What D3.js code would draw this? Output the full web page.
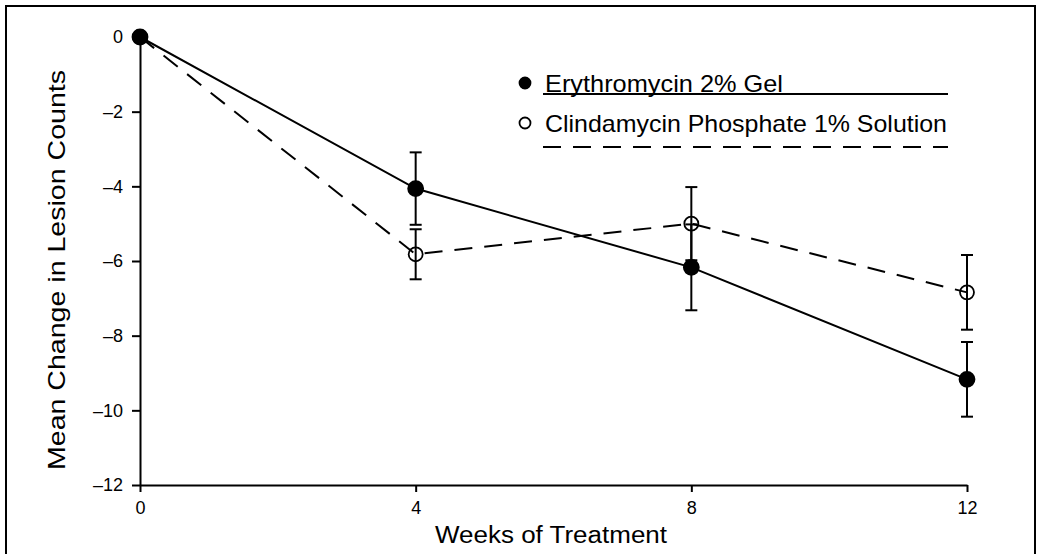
<!DOCTYPE html>
<html><head><meta charset="utf-8">
<script src="https://cdn.jsdelivr.net/npm/d3@7"></script>
<style>body{margin:0;background:#fff}svg{display:block}text{font-family:"Liberation Sans",Arial,sans-serif;fill:#000}</style>
</head><body><svg id="c" width="1039" height="554"></svg>
<script>
const weeks = [0, 4, 8, 12];
const xTicks = [0, 4, 8, 12];
const yTicks = [0, -2, -4, -6, -8, -10, -12];
const seriesNames = ["Erythromycin 2% Gel", "Clindamycin Phosphate 1% Solution"];
const erythroMean = [0, -4.06, -6.17, -9.17];
const erythroErr  = [0, 0.97, 1.15, 1.0];
const clindaMean  = [0, -5.82, -5.0, -6.84];
const clindaErr   = [0, 0.67, 0.98, 1.0];

const svg = d3.select("#c");
const x = d3.scaleLinear().domain([0, 12]).range([140, 967]);
const y = d3.scaleLinear().domain([0, -12]).range([37, 485]);

// frame
svg.append("path").attr("d","M6,554 L6,6 L1035,6 L1035,554").attr("fill","none").attr("stroke","#000").attr("stroke-width",2);

// axes
const yAxis = svg.append("g").attr("transform",`translate(${x(0)},0)`)
  .call(d3.axisLeft(y).tickValues(yTicks).tickSize(8).tickSizeOuter(0).tickPadding(9).tickFormat(d => d === 0 ? "0" : "\u2013" + Math.abs(d)));
const xAxis = svg.append("g").attr("transform",`translate(0,${y(-12)})`)
  .call(d3.axisBottom(x).tickValues(xTicks).tickSize(7).tickSizeOuter(0).tickPadding(9));
[yAxis, xAxis].forEach(g => {
  g.selectAll("path,line").attr("stroke","#000").attr("stroke-width",2);
  g.selectAll("text").attr("font-size",18).attr("font-family","Liberation Sans, Arial, sans-serif");
});

// axis titles
svg.append("text").attr("x", 551).attr("y", 543).attr("text-anchor","middle").attr("font-size",23)
  .attr("textLength", 232).attr("lengthAdjust","spacingAndGlyphs").text("Weeks of Treatment");
svg.append("text").attr("transform","translate(65,270) rotate(-90)").attr("text-anchor","middle").attr("font-size",24)
  .attr("textLength", 400).attr("lengthAdjust","spacingAndGlyphs").text("Mean Change in Lesion Counts");

const series = [
  {mean: erythroMean, err: erythroErr, filled: true, dash: null},
  {mean: clindaMean, err: clindaErr, filled: false, dash: "18,12"}
];
const line = d3.line().x(d => x(d[0])).y(d => y(d[1]));

// lines
series.forEach(s => {
  svg.append("path").datum(weeks.map((w,i)=>[w, s.mean[i]]))
    .attr("d", line).attr("fill","none").attr("stroke","#000").attr("stroke-width",2)
    .attr("stroke-dasharray", s.dash);
});
// error bars
series.forEach(s => {
  const g = svg.append("g");
  weeks.forEach((w,i) => {
    if (!s.err[i]) return;
    const cx = x(w), t = y(s.mean[i] + s.err[i]), b = y(s.mean[i] - s.err[i]);
    g.append("line").attr("x1",cx).attr("x2",cx).attr("y1",t).attr("y2",b).attr("stroke","#000").attr("stroke-width",2);
    [t,b].forEach(v => g.append("line").attr("x1",cx-6).attr("x2",cx+6).attr("y1",v).attr("y2",v).attr("stroke","#000").attr("stroke-width",2));
  });
});
// markers
series.slice().reverse().forEach(s => {
  weeks.forEach((w,i) => {
    svg.append("circle").attr("cx", x(w)).attr("cy", y(s.mean[i])).attr("r", s.filled ? 7.5 : 7)
      .attr("fill", s.filled ? "#000" : "none").attr("stroke","#000").attr("stroke-width",1.8);
  });
});

// legend
const lx = 525, ly = [83, 123];
const legendWidths = [238, 402];
series.forEach((s,i) => {
  svg.append("circle").attr("cx", lx).attr("cy", ly[i]).attr("r", 5.5)
    .attr("fill", s.filled ? "#000" : "none").attr("stroke","#000").attr("stroke-width",1.8);
  svg.append("text").attr("x", 545).attr("y", ly[i] + 9).attr("font-size", 24)
    .attr("textLength", legendWidths[i]).attr("lengthAdjust","spacingAndGlyphs").text(seriesNames[i]);
  const uy = ly[i] + (i===0 ? 11 : 24);
  svg.append("line").attr("x1",543).attr("x2",948).attr("y1", uy).attr("y2", uy)
    .attr("stroke","#000").attr("stroke-width",2).attr("stroke-dasharray", s.dash);
});
</script></body></html>
